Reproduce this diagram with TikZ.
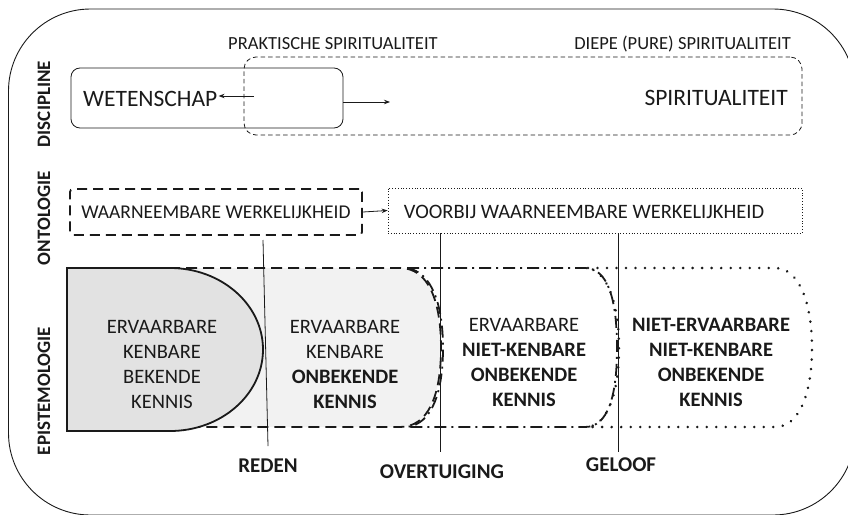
\documentclass[tikz,border=0pt]{standalone}
\usepackage{fontspec}
\setmainfont{Carlito}
\usetikzlibrary{arrows.meta}
\definecolor{kfill}{HTML}{E2E2E2}
\definecolor{ofill}{HTML}{F2F2F2}
\definecolor{ink}{HTML}{1A1A1A}
\begin{document}
\begin{tikzpicture}[x=1pt,y=-1pt,
  txt/.style={font=\fontsize{20.5}{25}\selectfont, text=ink, inner sep=1pt, align=center},
  head/.style={font=\fontsize{18.5}{22}\selectfont, text=ink, inner sep=1pt},
  ontxt/.style={font=\fontsize{19.5}{22}\selectfont, text=ink, inner sep=1pt},
  big/.style={font=\fontsize{23.5}{26}\selectfont, text=ink, inner sep=1pt},
  axis/.style={font=\fontsize{19}{23}\selectfont\bfseries, text=ink, rotate=90, inner sep=0pt},
  lab/.style={font=\fontsize{21}{23}\selectfont\bfseries, text=ink, inner sep=0pt},
  thinline/.style={line width=0.8pt, draw=ink},
  arr/.style={thinline, -{Stealth[length=6pt,width=4.5pt]}},
  thickbox/.style={line width=1.8pt, draw=ink},
  ]
\useasboundingbox (0,0) rectangle (848,514);
% outer frame
\draw[line width=0.9pt, draw=ink, rounded corners=82] (8.5,9) rectangle (855,515);

% axis labels
\node[axis] (dis) at (44,104) {DISCIPLINE};
\node[axis] (ont) at (44,218) {ONTOLOGIE};
\node[axis] (epi) at (44,391) {EPISTEMOLOGIE};

% discipline row
\node[thinline, dash pattern=on 4.5pt off 3pt, rounded corners=12, minimum width=558, minimum height=78, inner sep=0pt] (spirbox) at (523,96) {};
\node[thinline, rounded corners=9, minimum width=272, minimum height=60, inner sep=0pt] (wetbox) at (207,98) {};
\node[big, anchor=west] (wett) at (82,99) {WETENSCHAP};
\node[big, anchor=east] (spirt) at (789,98) {SPIRITUALITEIT};
\node[head, anchor=west] (prak) at (227,44) {PRAKTISCHE SPIRITUALITEIT};
\node[head, anchor=east] (diep) at (792,44) {DIEPE (PURE) SPIRITUALITEIT};
\coordinate (ltail) at (254,96);
\draw[arr] (ltail) -- (wett.east |- ltail);
\coordinate (rtip) at (390,102);
\draw[arr] (wetbox.east |- rtip) -- (rtip);

% ontology row
\node[ontxt, thickbox, dash pattern=on 10pt off 6pt, rounded corners=3, minimum width=292, minimum height=46] (waar) at (216,212) {WAARNEEMBARE WERKELIJKHEID};
\node[thinline, dotted, minimum width=414, minimum height=45, inner sep=0pt] (voor) at (595,210.5) {};
\node[ontxt, font=\fontsize{20.5}{22}\selectfont] (voort) at (584,212) {VOORBIJ WAARNEEMBARE WERKELIJKHEID};
\draw[arr] (waar.east) -- (voor.west);

% epistemology row
\draw[thickbox, fill=ofill, dash pattern=on 11pt off 6pt]
  (67,268) -- (400,268) .. controls (428,268) and (441,300) .. (441,348)
  .. controls (441,396) and (428,427) .. (400,427) -- (67,427) -- cycle;
\draw[thickbox, fill=kfill]
  (67,268) -- (170,268) arc[start angle=-90, end angle=90, x radius=93, y radius=81.5]
  -- (67,431) -- cycle;
\draw[thickbox, dash pattern=on 12pt off 5pt on 2pt off 5pt]
  (407,268) -- (585,268) .. controls (608,268) and (617,300) .. (617,348)
  .. controls (617,396) and (608,427) .. (585,427) -- (407,427)
  .. controls (432,424) and (443,392) .. (443,348)
  .. controls (443,305) and (432,272) .. (407,268);
\draw[line width=2.8pt, draw=ink, line cap=round, dash pattern=on 0.01pt off 9.5pt]
  (588,268) -- (775,268) .. controls (800,268) and (812,305) .. (812,348)
  .. controls (812,392) and (800,427) .. (775,427) -- (588,427)
  .. controls (608,424) and (619,392) .. (619,348)
  .. controls (619,305) and (608,272) .. (588,268);

\node[txt] (k1) at (162,364.5) {ERVAARBARE\\KENBARE\\BEKENDE\\KENNIS};
\node[txt] (k2) at (345,364.5) {ERVAARBARE\\KENBARE\\\textbf{ONBEKENDE}\\\textbf{KENNIS}};
\node[txt] (k3) at (524,362) {ERVAARBARE\\\textbf{NIET-KENBARE}\\\textbf{ONBEKENDE}\\\textbf{KENNIS}};
\node[txt] (k4) at (711,362) {\textbf{NIET-ERVAARBARE}\\\textbf{NIET-KENBARE}\\\textbf{ONBEKENDE}\\\textbf{KENNIS}};

% division lines
\coordinate (r1) at (263,240);
\coordinate (r2) at (268,446);
\draw[thinline] (r1) -- (r2);
\coordinate (o2) at (440,452);
\draw[thinline] (voor.south -| o2) -- (o2);
\coordinate (g2) at (618,452);
\draw[thinline] (voor.south -| g2) -- (g2);

\node[lab] (reden) at (268,466) {REDEN};
\node[lab] (overt) at (442,472) {OVERTUIGING};
\node[lab] (geloof) at (621,465) {GELOOF};
\end{tikzpicture}
\end{document}
